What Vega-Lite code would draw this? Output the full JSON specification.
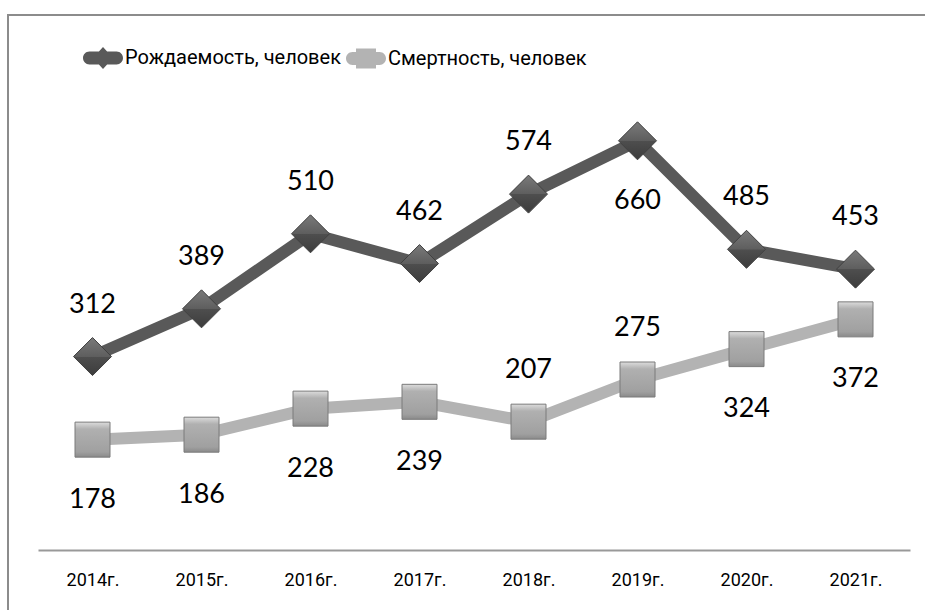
{
  "$schema": "https://vega.github.io/schema/vega-lite/v6.json",
  "width": 930,
  "height": 600,
  "autosize": {"type": "none"},
  "padding": {"left": 8, "top": 15, "right": 0, "bottom": 0},
  "background": "white",
  "config": {"view": {"stroke": "#8c8c8c", "strokeWidth": 2}},
  "data": {
    "values": [
      {"year": "2014г.", "series": "Рождаемость, человек", "value": 312, "pos": "above"},
      {"year": "2015г.", "series": "Рождаемость, человек", "value": 389, "pos": "above"},
      {"year": "2016г.", "series": "Рождаемость, человек", "value": 510, "pos": "above"},
      {"year": "2017г.", "series": "Рождаемость, человек", "value": 462, "pos": "above"},
      {"year": "2018г.", "series": "Рождаемость, человек", "value": 574, "pos": "above"},
      {"year": "2019г.", "series": "Рождаемость, человек", "value": 660, "pos": "below"},
      {"year": "2020г.", "series": "Рождаемость, человек", "value": 485, "pos": "above"},
      {"year": "2021г.", "series": "Рождаемость, человек", "value": 453, "pos": "above"},
      {"year": "2014г.", "series": "Смертность, человек", "value": 178, "pos": "below"},
      {"year": "2015г.", "series": "Смертность, человек", "value": 186, "pos": "below"},
      {"year": "2016г.", "series": "Смертность, человек", "value": 228, "pos": "below"},
      {"year": "2017г.", "series": "Смертность, человек", "value": 239, "pos": "below"},
      {"year": "2018г.", "series": "Смертность, человек", "value": 207, "pos": "above"},
      {"year": "2019г.", "series": "Смертность, человек", "value": 275, "pos": "above"},
      {"year": "2020г.", "series": "Смертность, человек", "value": 324, "pos": "below"},
      {"year": "2021г.", "series": "Смертность, человек", "value": 372, "pos": "below"}
    ]
  },
  "encoding": {
    "x": {
      "field": "year", "type": "ordinal", "sort": null,
      "scale": {"type": "point", "range": [30, 902], "padding": 0.5},
      "axis": {
        "title": null, "orient": "bottom", "offset": -65,
        "domainColor": "#999999", "domainWidth": 2, "ticks": false, "grid": false,
        "labelFont": "Roboto",
        "labelFontSize": 18, "labelColor": "#000000", "labelPadding": 21, "labelAngle": 0
      }
    },
    "y": {
      "field": "value", "type": "quantitative",
      "scale": {"domain": [0, 800], "range": [535, 39], "nice": false, "zero": false},
      "axis": null
    }
  },
  "layer": [
    {
      "transform": [{"filter": "datum.series === 'Смертность, человек'"}],
      "mark": {"type": "line", "strokeWidth": 12, "strokeJoin": "round", "color": "#b3b3b3"}
    },
    {
      "transform": [{"filter": "datum.series === 'Рождаемость, человек'"}],
      "mark": {"type": "line", "strokeWidth": 12, "strokeJoin": "round", "color": "#595959"}
    },
    {
      "transform": [{"filter": "datum.series === 'Рождаемость, человек'"}],
      "mark": {
        "type": "point", "shape": "diamond", "size": 1444, "filled": true, "opacity": 1,
        "fill": {"gradient": "linear", "x1": 0, "y1": 0, "x2": 0, "y2": 1,
                 "stops": [{"offset": 0, "color": "#7a7a7a"}, {"offset": 0.5, "color": "#5e5e5e"}, {"offset": 0.51, "color": "#4e4e4e"}, {"offset": 1, "color": "#3c3c3c"}]},
        "stroke": "#404040", "strokeWidth": 1
      }
    },
    {
      "transform": [{"filter": "datum.series === 'Смертность, человек'"}],
      "mark": {
        "type": "point", "shape": "square", "size": 1225, "filled": true, "opacity": 1,
        "fill": {"gradient": "linear", "x1": 0, "y1": 0, "x2": 0, "y2": 1,
                 "stops": [{"offset": 0, "color": "#dcdcdc"}, {"offset": 0.2, "color": "#b0b0b0"}, {"offset": 0.85, "color": "#a0a0a0"}, {"offset": 1, "color": "#8a8a8a"}]},
        "stroke": "#7a7a7a", "strokeWidth": 1
      }
    },
    {
      "transform": [{"filter": "datum.pos === 'above'"}],
      "mark": {"type": "text", "font": "Lato", "fontSize": 27, "color": "#000000", "baseline": "middle", "dy": -52},
      "encoding": {"text": {"field": "value", "type": "quantitative"}}
    },
    {
      "transform": [{"filter": "datum.pos === 'below'"}],
      "mark": {"type": "text", "font": "Lato", "fontSize": 27, "color": "#000000", "baseline": "middle", "dy": 60},
      "encoding": {"text": {"field": "value", "type": "quantitative"}}
    },
    {
      "mark": {"type": "point", "filled": true, "opacity": 0.001},
      "encoding": {
        "color": {
          "field": "series", "type": "nominal",
          "scale": {"domain": ["Рождаемость, человек", "Смертность, человек"], "range": ["#595959", "#b3b3b3"]},
          "legend": {
            "orient": "none", "legendX": 75, "legendY": 23, "direction": "horizontal", "title": null,
            "symbolSize": 1600, "symbolOpacity": 1, "symbolStrokeWidth": 0,
            "labelFont": "Roboto",
            "labelFontSize": 20, "labelColor": "#000000", "labelOffset": 2, "columnPadding": 5, "labelLimit": 400
          }
        },
        "shape": {
          "field": "series", "type": "nominal",
          "scale": {
            "domain": ["Рождаемость, человек", "Смертность, человек"],
            "range": [
              "M-0.68,-0.32 L0.68,-0.32 A0.32,0.32 0 0 1 0.68,0.32 L-0.68,0.32 A0.32,0.32 0 0 1 -0.68,-0.32 Z M0,-0.55 L0.5,0 L0,0.55 L-0.5,0 Z",
              "M-0.68,-0.32 L0.68,-0.32 A0.32,0.32 0 0 1 0.68,0.32 L-0.68,0.32 A0.32,0.32 0 0 1 -0.68,-0.32 Z M-0.5,-0.5 L0.5,-0.5 L0.5,0.5 L-0.5,0.5 Z"
            ]
          },
          "legend": {
            "orient": "none", "legendX": 75, "legendY": 23, "direction": "horizontal", "title": null,
            "symbolSize": 1600, "symbolOpacity": 1, "symbolStrokeWidth": 0,
            "labelFont": "Roboto",
            "labelFontSize": 20, "labelColor": "#000000", "labelOffset": 2, "columnPadding": 5, "labelLimit": 400
          }
        }
      }
    }
  ]
}
